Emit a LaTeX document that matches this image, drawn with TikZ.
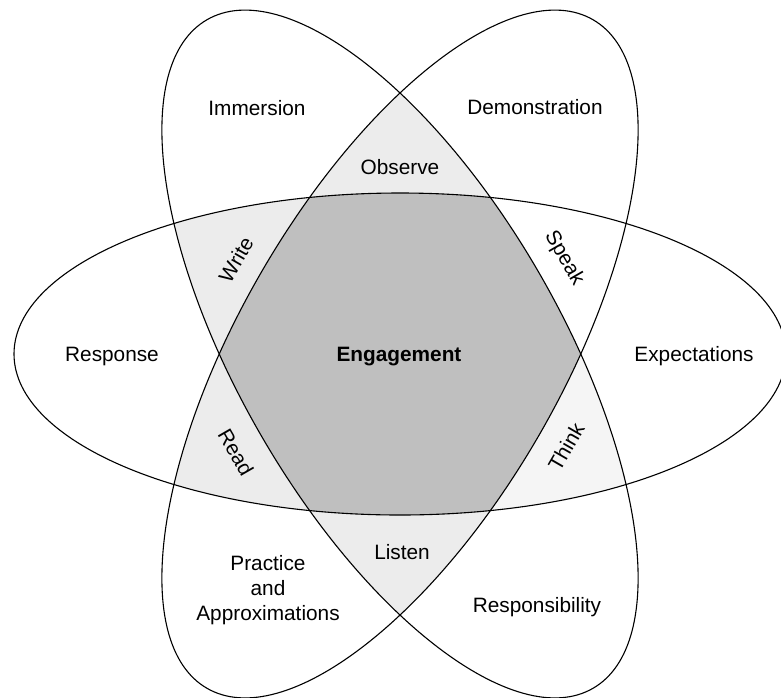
\documentclass[tikz,border=0pt]{standalone}
\usepackage{fontspec}
\setmainfont{Liberation Sans}

\def\ring#1{(400,354) ellipse [x radius = 386, y radius = 161, rotate = #1]}

\begin{document}
\begin{tikzpicture}[x = 1pt, y = -1pt]
\tikzstyle{LabelStyle}=[font = \fontsize{20.8}{25}\selectfont,
                        inner sep = 0pt,
                        align = center]
\tikzstyle{RingStyle}=[line width = 1.1pt, draw = black]
\useasboundingbox (0,0) rectangle (781,697);
% two-way overlaps
\begin{scope}
\clip \ring{60};
\fill[gray!15] \ring{-60};
\end{scope}
\begin{scope}
\clip \ring{0};
\clip \ring{-60};
\fill[gray!15] (0,0) rectangle (400,354);
\fill[gray!8] (400,354) rectangle (781,697);
\end{scope}
\begin{scope}
\clip \ring{0};
\clip \ring{60};
\fill[gray!15] (0,354) rectangle (400,697);
\end{scope}
% three-way overlap
\begin{scope}
\clip \ring{0};
\clip \ring{60};
\fill[gray!50] \ring{-60};
\end{scope}
\draw[RingStyle] \ring{0};
\draw[RingStyle] \ring{60};
\draw[RingStyle] \ring{-60};
% labels
\node[LabelStyle] (immersion) at (257,108) {Immersion};
\node[LabelStyle] (demo) at (535,107) {Demonstration};
\node[LabelStyle] (observe) at (400,167) {Observe};
\node[LabelStyle] (response) at (112,356) {Response};
\node[LabelStyle] (expect) at (694,356) {Expectations};
\node[LabelStyle, font = \fontsize{20.8}{25}\selectfont\bfseries] (engage) at (399,357) {Engagement};
\node[LabelStyle, rotate = 60] (write) at (236,260) {Write};
\node[LabelStyle, rotate = -60] (speak) at (564,258) {Speak};
\node[LabelStyle, rotate = -60] (read) at (236,452) {Read};
\node[LabelStyle, rotate = 60] (think) at (566,447) {Think};
\node[LabelStyle] (listen) at (402,552) {Listen};
\node[LabelStyle] (practice) at (268,590) {Practice\\and\\Approximations};
\node[LabelStyle] (resp) at (537,607) {Responsibility};
\end{tikzpicture}
\end{document}
